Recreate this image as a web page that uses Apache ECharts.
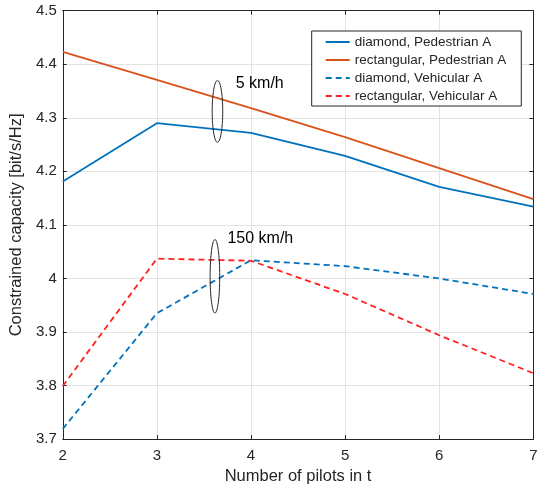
<!DOCTYPE html>
<html>
<head>
<meta charset="utf-8">
<script src="https://cdn.jsdelivr.net/npm/echarts@6/dist/echarts.min.js"></script>
<style>html,body{margin:0;padding:0;background:#fff}#c{width:541px;height:490px}</style>
</head>
<body>
<div id="c"></div>
<script>
const pilots = [2, 3, 4, 5, 6, 7];
const diamondPedA = [4.181, 4.290, 4.272, 4.229, 4.171, 4.134];
const rectPedA = [4.423, 4.371, 4.318, 4.264, 4.206, 4.148];
const diamondVehA = [3.719, 3.935, 4.034, 4.023, 4.000, 3.971];
const rectVehA = [3.799, 4.037, 4.033, 3.971, 3.894, 3.823];
const seriesNames = ['diamond, Pedestrian A', 'rectangular, Pedestrian A', 'diamond, Vehicular A', 'rectangular, Vehicular A'];
const xTicks = [2, 3, 4, 5, 6, 7];
const yTicks = [3.7, 3.8, 3.9, 4.0, 4.1, 4.2, 4.3, 4.4, 4.5];
// annotations (data coordinates)
const annotations = [
  { text: '5 km/h', textX: 3.838, textY: 4.363, ellX: 3.644, ellY: 4.312, ellRx: 0.056, ellRy: 0.0578 },
  { text: '150 km/h', textX: 3.75, textY: 4.074, ellX: 3.617, ellY: 4.004, ellRx: 0.051, ellRy: 0.0686 }
];

const FONT = 'Liberation Sans, Arial, sans-serif';
const AX = '#262626';
const chart = echarts.init(document.getElementById('c'), null, { renderer: 'canvas' });

function pairs(arr) { return pilots.map((p, i) => [p, arr[i]]); }

const axisCommon = {
  axisLine: { show: true, onZero: false, lineStyle: { color: AX, width: 1 } },
  axisTick: { show: true, inside: true, length: 4, lineStyle: { color: AX, width: 1 } },
};

const option = {
  animation: false,
  backgroundColor: '#fff',
  grid: { left: 61.7, right: 7.7, top: 10.7, bottom: 45.7, containLabel: false },
  xAxis: [
    Object.assign({
      type: 'value', min: 2, max: 7, interval: 1,
      name: 'Number of pilots in t', nameLocation: 'middle', nameGap: 26,
      nameTextStyle: { fontFamily: FONT, fontSize: 16.5, color: AX },
      axisLabel: { fontFamily: FONT, fontSize: 15, color: AX, margin: 9, formatter: v => xTicks.includes(v) ? String(v) : '' },
      splitLine: { show: true, lineStyle: { color: '#e3e3e3', width: 1 } }
    }, axisCommon),
    Object.assign({
      type: 'value', min: 2, max: 7, interval: 1, position: 'top',
      axisLabel: { show: false }, splitLine: { show: false }
    }, axisCommon)
  ],
  yAxis: [
    Object.assign({
      type: 'value', min: 3.7, max: 4.5, interval: 0.1,
      name: 'Constrained capacity [bit/s/Hz]', nameLocation: 'middle', nameGap: 34,
      nameTextStyle: { fontFamily: FONT, fontSize: 16.5, color: AX },
      axisLabel: { fontFamily: FONT, fontSize: 15, color: AX, margin: 6,
        formatter: v => { const r = Math.round(v * 10) / 10; return r === 4 ? '4' : r.toFixed(1); } },
      splitLine: { show: true, lineStyle: { color: '#e3e3e3', width: 1 } }
    }, axisCommon),
    Object.assign({
      type: 'value', min: 3.7, max: 4.5, interval: 0.1, position: 'right',
      axisLabel: { show: false }, splitLine: { show: false }
    }, axisCommon)
  ],
  legend: {
    show: true,
    orient: 'vertical', left: 311.7, top: 31,
    backgroundColor: '#fff', borderColor: AX, borderWidth: 1, borderRadius: 0,
    padding: [4, 15, 3, 13],
    itemWidth: 24, itemHeight: 14, itemGap: 4,
    itemStyle: { opacity: 0 },
    lineStyle: { opacity: 1 },
    textStyle: { fontFamily: FONT, fontSize: 13.5, color: AX },
    data: seriesNames.slice()
  },
  series: [
    { name: seriesNames[0], type: 'line', data: pairs(diamondPedA), symbol: 'none',
      lineStyle: { color: '#0072BD', width: 1.8 }, itemStyle: { color: '#0072BD' } },
    { name: seriesNames[1], type: 'line', data: pairs(rectPedA), symbol: 'none',
      lineStyle: { color: '#D95319', width: 1.8 }, itemStyle: { color: '#D95319' } },
    { name: seriesNames[2], type: 'line', data: pairs(diamondVehA), symbol: 'none',
      lineStyle: { color: '#0072BD', width: 1.8, type: [6, 4] }, itemStyle: { color: '#0072BD' } },
    { name: seriesNames[3], type: 'line', data: pairs(rectVehA), symbol: 'none',
      lineStyle: { color: '#FF2020', width: 1.8, type: [6, 4] }, itemStyle: { color: '#FF2020' } }
  ]
};
chart.setOption(option);

const graphics = [];
annotations.forEach(a => {
  const c = chart.convertToPixel({ gridIndex: 0 }, [a.ellX, a.ellY]);
  const r = chart.convertToPixel({ gridIndex: 0 }, [a.ellX + a.ellRx, a.ellY + a.ellRy]);
  graphics.push({ type: 'ellipse', shape: { cx: c[0], cy: c[1], rx: Math.abs(r[0] - c[0]), ry: Math.abs(c[1] - r[1]) },
    style: { fill: 'none', stroke: AX, lineWidth: 1 }, z: 10 });
  const t = chart.convertToPixel({ gridIndex: 0 }, [a.textX, a.textY]);
  graphics.push({ type: 'text', x: t[0], y: t[1],
    style: { text: a.text, fontFamily: FONT, fontSize: 16, fill: '#000', verticalAlign: 'middle', align: 'left' }, z: 10 });
});
chart.setOption({ graphic: graphics });
</script>
</body>
</html>
